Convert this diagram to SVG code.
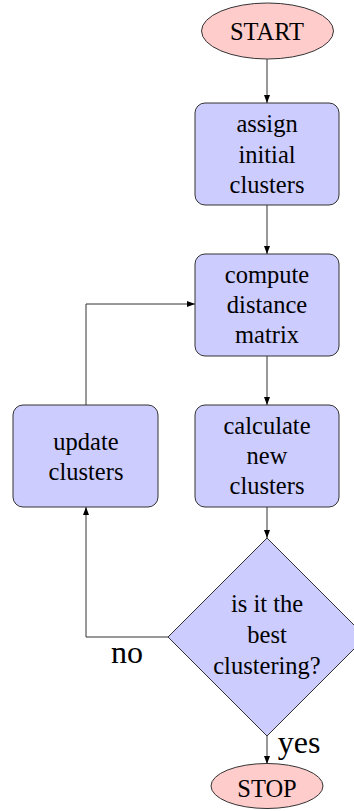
<svg xmlns="http://www.w3.org/2000/svg" width="354" height="811" viewBox="0 0 354 811">
<style>
.term{fill:#ffcccc;stroke:#333;stroke-width:1}
.proc{fill:#ccccff;stroke:#333;stroke-width:1}
.t{font-family:"Liberation Serif","Times New Roman",serif;font-size:24.5px;fill:#000;text-anchor:middle}
.l{font-family:"Liberation Serif","Times New Roman",serif;font-size:32px;fill:#000;text-anchor:middle}
.c{fill:none;stroke:#333;stroke-width:1}
</style>
<defs>
<marker id="ah" viewBox="0 0 8 6" refX="8" refY="3" markerWidth="8" markerHeight="6" markerUnits="userSpaceOnUse" orient="auto">
<path d="M0,0 L8,3 L0,6 Z" fill="#000"/>
</marker>
</defs>
<g id="connectors">
<path class="c" d="M267,59 V103" marker-end="url(#ah)"/>
<path class="c" d="M267,205 V254" marker-end="url(#ah)"/>
<path class="c" d="M267,356 V405" marker-end="url(#ah)"/>
<path class="c" d="M267,507 V538" marker-end="url(#ah)"/>
<path class="c" d="M86,405 V304 H195" marker-end="url(#ah)"/>
<path class="c" d="M168,637 H86 V507" marker-end="url(#ah)"/>
<path class="c" d="M267,736 V764" marker-end="url(#ah)"/>
<text class="l" x="127" y="662.5">no</text>
<text class="l" x="299" y="753">yes</text>
</g>
<g id="start">
<ellipse class="term" cx="267.5" cy="31" rx="66" ry="28"/>
<text class="t" x="267" y="39.5">START</text>
</g>
<g id="assign">
<rect class="proc" x="195" y="103" width="144" height="102" rx="10"/>
<text class="t" x="267" y="132">assign</text>
<text class="t" x="267" y="162.5">initial</text>
<text class="t" x="267" y="192.5">clusters</text>
</g>
<g id="compute">
<rect class="proc" x="195" y="254" width="144" height="102" rx="10"/>
<text class="t" x="267" y="283">compute</text>
<text class="t" x="267" y="313">distance</text>
<text class="t" x="267" y="343">matrix</text>
</g>
<g id="calculate">
<rect class="proc" x="195" y="405" width="144" height="102" rx="10"/>
<text class="t" x="267" y="434">calculate</text>
<text class="t" x="267" y="464">new</text>
<text class="t" x="267" y="494">clusters</text>
</g>
<g id="update">
<rect class="proc" x="13" y="405" width="145" height="102" rx="10"/>
<text class="t" x="86" y="449.5">update</text>
<text class="t" x="86" y="479.5">clusters</text>
</g>
<g id="decision">
<polygon class="proc" points="267,538 366,637 267,736 168,637"/>
<text class="t" x="267" y="612">is it the</text>
<text class="t" x="267" y="643">best</text>
<text class="t" x="267" y="674">clustering?</text>
</g>
<g id="stop">
<ellipse class="term" cx="267" cy="786" rx="56" ry="22.5"/>
<text class="t" x="267" y="796.5">STOP</text>
</g>
</svg>
